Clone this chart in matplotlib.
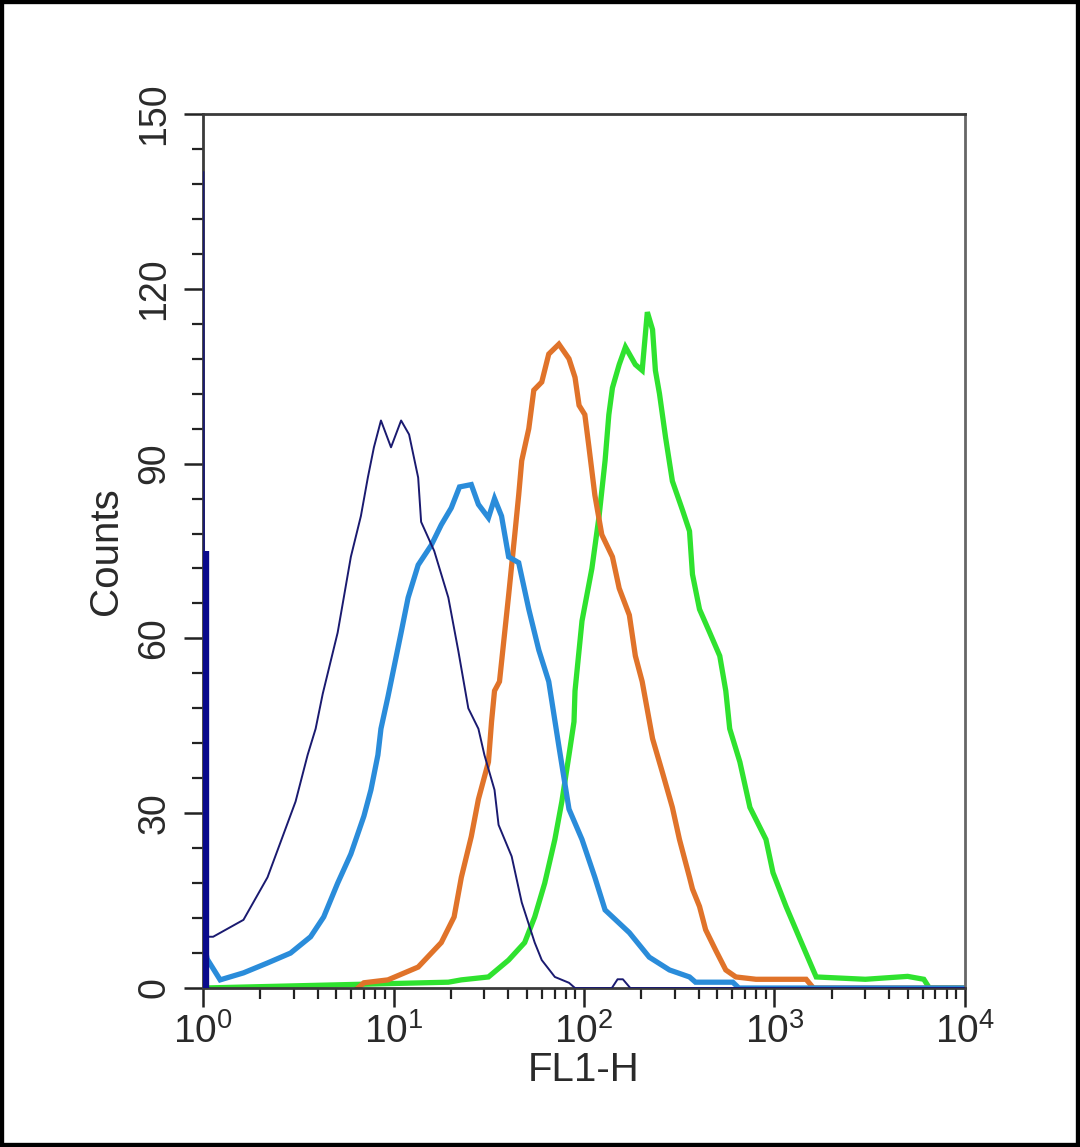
import math
import matplotlib
matplotlib.use("Agg")
import matplotlib.pyplot as plt
from matplotlib.ticker import FixedLocator, LogLocator, MultipleLocator, FuncFormatter
from matplotlib.patches import Rectangle

plt.rcParams['font.family'] = ['Liberation Sans', 'DejaVu Sans']
plt.rcParams['mathtext.fontset'] = 'custom'
plt.rcParams['mathtext.rm'] = 'Liberation Sans'
plt.rcParams['mathtext.default'] = 'rm'

# ---- data (FL1-H intensity, counts) ----
blank_x = [1.025, 1.025]
blank_counts = [0, 75]

isotype_x = [1.005, 1.02, 1.13, 1.63, 2.18, 2.55, 3.06, 3.54, 3.90, 4.25, 5.09, 5.48, 5.97,
             6.74, 7.33, 7.89, 8.59, 9.70, 10.96, 12.07, 13.47, 13.96, 16.36, 19.4, 21.9,
             24.7, 27.9, 30.0, 33.9, 35.6, 41.7, 47.1, 55.1, 60.0, 70.3, 83.4, 89.7, 140,
             150, 160, 175, 250, 1000, 10000]
isotype_counts = [140, 8.8, 8.8, 11.7, 19, 25, 32, 40, 44.5, 50.5, 61, 67, 74,
                  81, 87.6, 92.8, 97.4, 92.8, 97.4, 95, 87.6, 80, 75, 67, 57.8,
                  48, 44.5, 40, 34, 28, 22.6, 14.7, 7.8, 4.8, 1.9, 0.9, 0, 0,
                  1.5, 1.5, 0, 0, 0, 0]

sample1_x = [1.0, 1.05, 1.23, 1.63, 2.18, 2.88, 3.67, 4.30, 5.09, 5.97, 6.99, 7.61, 8.28,
             8.59, 9.35, 10.96, 11.93, 13.47, 15.78, 17.81, 20.1, 22.2, 25.6, 27.9, 31.5,
             33.9, 36.9, 40.2, 45.4, 51.3, 57.9, 65.3, 73.8, 83.4, 97.6, 114, 129, 173,
             220, 281, 358, 385, 604, 650, 10000]
sample1_counts = [9, 5, 1.4, 2.6, 4.3, 6, 8.8, 12.2, 18, 23, 29.5, 34, 40,
                  44.5, 50, 61, 67, 72.6, 76, 79.5, 82.4, 86, 86.4, 83, 80.7,
                  84, 81, 74, 73, 65, 58, 52.6, 41.5, 30.7, 25.5, 19, 13.4, 9.5,
                  5.3, 3.1, 1.9, 1, 1, 0, 0]

sample2_x = [6.5, 6.99, 9.35, 13.47, 17.81, 20.8, 22.7, 25.6, 27.9, 31.5, 32.7, 33.9, 36.0,
             40.2, 43.3, 45.4, 47.1, 51.3, 54.5, 60.0, 65.3, 73.8, 83.4, 89.7, 94.2,
             101, 106, 114, 124, 141, 153, 173, 186, 202, 229, 258, 291, 317, 358, 371,
             404, 435, 491, 555, 627, 800, 1466, 1600, 10000]
sample2_counts = [0, 0.9, 1.4, 3.6, 7.8, 12.2, 19, 26, 32.4, 38.8, 45.7, 51, 52.6,
                  67.4, 77.8, 84.6, 90.5, 96, 102.6, 104, 108.8, 110.5, 108, 104.8, 100,
                  98.4, 93, 84.6, 77.8, 74, 68.6, 64, 57, 52.6, 42.8, 37, 31, 25.5, 19, 17,
                  14, 10, 6.5, 3.1, 1.9, 1.5, 1.5, 0, 0]

sample3_x = [1.0, 19.4, 22.7, 31.5, 40.2, 48.8, 55.1, 62.2, 70.3, 76.5, 83.4, 88.6, 89.7,
             97.6, 110, 120, 129, 135, 141, 153, 165, 186, 202, 215, 229, 237, 249, 268,
             291, 329, 358, 371, 404, 457, 516, 555, 582, 658, 743, 902, 982, 1150, 1364,
             1596, 1656, 3000, 5000, 6080, 6500, 10000]
sample3_counts = [0, 1, 1.4, 1.9, 4.8, 7.8, 12.2, 18, 25.5, 32, 40, 45.7, 51,
                  63, 72, 81, 90.5, 98.4, 103, 107, 110, 107, 106, 116, 113, 106, 102, 94.5,
                  87, 82, 78.4, 71, 65, 61, 57, 51, 44.5, 38.8, 31, 25.5, 19.8, 14, 8.3,
                  3.1, 1.9, 1.5, 2, 1.5, 0, 0]

y_ticks = [0, 30, 60, 90, 120, 150]
x_ticks = [1, 10, 100, 1000, 10000]

fig = plt.figure(figsize=(10.8, 11.47), dpi=100)
ax = fig.add_axes([0.188, 0.1386, 0.7055, 0.762])

ax.plot(sample3_x, sample3_counts, color='#2fe22f', lw=3.8, solid_joinstyle='miter')
ax.plot(sample2_x, sample2_counts, color='#e0732a', lw=3.8, solid_joinstyle='miter')
ax.plot(sample1_x, sample1_counts, color='#2a8cda', lw=3.8, solid_joinstyle='miter')
ax.plot(isotype_x, isotype_counts, color='#1a1a70', lw=1.4, zorder=3)
ax.plot(blank_x, blank_counts, color='#0a0a8c', lw=6, solid_capstyle='butt', zorder=3)

ax.set_xscale('log')
ax.set_xlim(1, 10000)
ax.set_ylim(0, 150)

ax.xaxis.set_major_locator(FixedLocator(x_ticks))
ax.xaxis.set_minor_locator(LogLocator(base=10, subs=range(2, 10), numticks=20))
ax.xaxis.set_major_formatter(FuncFormatter(lambda v, p: r'$10^{%d}$' % round(math.log10(v))))
ax.yaxis.set_major_locator(FixedLocator(y_ticks))
ax.yaxis.set_minor_locator(MultipleLocator(6))

ax.tick_params(axis='both', which='major', direction='out', length=14, width=1.8,
               color='#222222', labelcolor='#2a2a2a')
ax.tick_params(axis='both', which='minor', direction='out', length=8, width=1.6, color='#222222')
ax.tick_params(axis='x', which='major', labelsize=28, pad=4)
ax.tick_params(axis='y', which='major', labelsize=27, pad=8)
for lab in ax.get_yticklabels():
    lab.set_rotation(90)
    lab.set_va('center')

for s in ax.spines.values():
    s.set_color('#3a3a3a')
    s.set_linewidth(2)
ax.spines['right'].set_color('#666666')

ax.set_xlabel('FL1-H', fontsize=29, color='#2a2a2a', labelpad=0)
ax.set_ylabel('Counts', fontsize=29, color='#2a2a2a', labelpad=8)

fig.patches.append(Rectangle((0, 0), 1, 1, transform=fig.transFigure, fill=False,
                             edgecolor='black', linewidth=6))

fig.savefig('out.png', dpi=100)
